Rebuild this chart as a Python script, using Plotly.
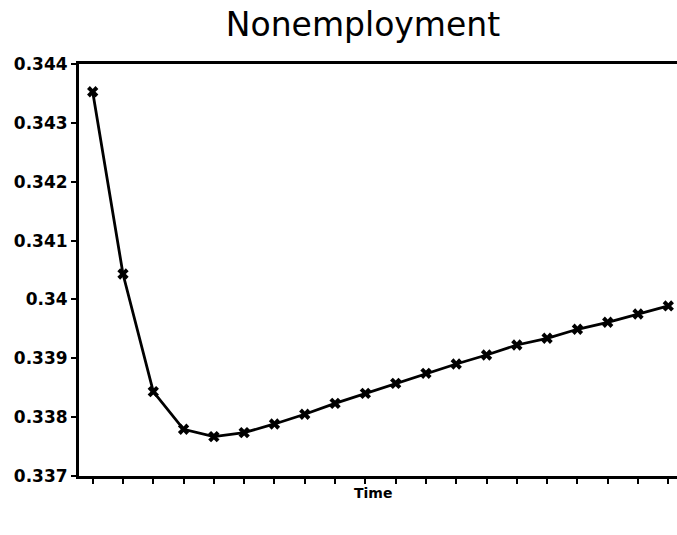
import plotly.graph_objects as go

periods = list(range(1, 21))
nonemployment = [0.343529, 0.340432, 0.338433, 0.337794, 0.337668, 0.337736, 0.337884,
                 0.338049, 0.338235, 0.338405, 0.338575, 0.338745, 0.338903, 0.339056,
                 0.339226, 0.339340, 0.339493, 0.339612, 0.339753, 0.339889]
y_ticks = [0.337, 0.338, 0.339, 0.340, 0.341, 0.342, 0.343, 0.344]
y_tick_labels = ["0.337", "0.338", "0.339", "0.34", "0.341", "0.342", "0.343", "0.344"]

W, H = 677, 535

fig = go.Figure()
fig.add_trace(go.Scatter(
    x=periods, y=nonemployment, mode="lines+markers",
    line=dict(color="black", width=2.8),
    marker=dict(symbol="x", size=10, color="black"),
    showlegend=False,
))

plot_left, plot_top, plot_bottom = 79, 64, 476
fig.update_layout(
    width=W, height=H,
    margin=dict(l=plot_left, r=0, t=plot_top, b=H - plot_bottom),
    paper_bgcolor="white", plot_bgcolor="white",
    title=dict(text="Nonemployment", x=363 / W, xanchor="center", xref="container",
               y=1 - 24 / H, yanchor="middle", yref="container",
               font=dict(family="DejaVu Sans", size=33, color="black")),
    xaxis=dict(range=[0.548, 20.287], showgrid=False, zeroline=False,
               tickmode="array", tickvals=periods, showticklabels=False,
               ticks="outside", ticklen=5, tickwidth=2, tickcolor="black",
               showline=True, linecolor="black", linewidth=3, mirror=True),
    yaxis=dict(range=[0.337, 0.344], showgrid=False, zeroline=False,
               tickmode="array", tickvals=y_ticks, ticktext=y_tick_labels,
               ticks="outside", ticklen=5, tickwidth=2, tickcolor="black",
               tickfont=dict(family="DejaVu Sans", size=17, color="black", weight="bold"),
               showline=True, linecolor="black", linewidth=3),
    annotations=[dict(text="Time", xref="paper", yref="paper",
                      x=(373 - 79) / 598, y=(476 - 493) / 412,
                      xanchor="center", yanchor="middle", showarrow=False,
                      font=dict(family="DejaVu Sans", size=14, color="black", weight="bold"))],
)

fig.write_html("out.html",
               config={"displayModeBar": False},
               post_script="document.body.style.margin='0';document.body.style.overflow='hidden';")
